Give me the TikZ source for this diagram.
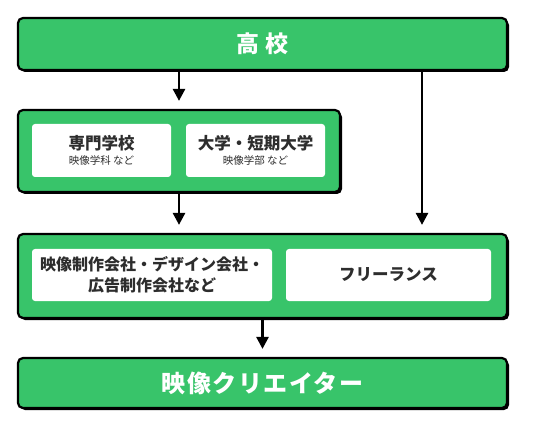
\documentclass[tikz,border=0pt]{standalone}
\usepackage{fontspec}
\usepackage{xcolor}
\usetikzlibrary{shapes,arrows.meta,positioning,calc,shadows}
\setmainfont{Noto Sans CJK JP}
\newfontfamily\jp{Noto Sans CJK JP}
\definecolor{pathgreen}{RGB}{56,196,106}
\definecolor{pathtext}{RGB}{45,45,45}
\tikzset{
  stagebox/.style={draw=black, line width=2.2pt, fill=pathgreen, rounded corners=5pt,
    drop shadow={shadow xshift=2pt, shadow yshift=-2pt, fill=black, opacity=1},
    inner sep=0pt, text=white},
  itembox/.style={fill=white, rounded corners=3pt, inner sep=0pt, text=pathtext, align=center},
  flow/.style={line width=2.6pt, -{Triangle[length=12pt,width=12pt]}, shorten >=8pt}
}
\begin{document}
\begin{tikzpicture}[x=1pt,y=1pt]
				\useasboundingbox (0,0) rectangle (551,426);
				% Draw stage boxes
				\node[stagebox, minimum width=489pt, minimum height=52pt, font=\jp\bfseries\fontsize{23}{25}\selectfont] (hs) at (262.5,382) {高 校};
				\node[stagebox, minimum width=322pt, minimum height=82pt] (school) at (179,275) {};
				\node[stagebox, minimum width=489pt, minimum height=84pt] (work) at (262.5,150) {};
				\node[stagebox, minimum width=489pt, minimum height=50pt, font=\jp\bfseries\fontsize{24}{26}\selectfont\addfontfeature{LetterSpace=6}] (creator) at (262.5,43) {映像クリエイター};
				
				% Draw items inside the boxes
				\node[itembox, minimum width=139pt, minimum height=53pt, font=\jp\fontsize{10.5}{13}\selectfont] (senmon) at (101.5,275.5) {{\bfseries\fontsize{16.5}{18}\selectfont 専門学校}\\[2pt]{映像学科 など}};
				\node[itembox, minimum width=139pt, minimum height=53pt, font=\jp\fontsize{10.5}{13}\selectfont] (daigaku) at (255.5,275.5) {{\bfseries\fontsize{16.5}{18}\selectfont 大学・短期大学}\\[2pt]{映像学部 など}};
				\node[itembox, minimum width=240pt, minimum height=52pt, font=\jp\bfseries\fontsize{16}{21}\selectfont] (company) at (152,151) {映像制作会社・デザイン会社・\\広告制作会社など};
				\node[itembox, minimum width=205pt, minimum height=52pt, font=\jp\bfseries\fontsize{16.5}{18}\selectfont] (freelance) at (388.5,151) {フリーランス};
				
				% Draw connections
				\coordinate (side) at (422,0);
				\draw[flow] (hs.south -| school.north) -- (school.north);
				\draw[flow] (school.south) -- (school.south |- work.north);
				\draw[flow] (hs.south -| side) -- (work.north -| side);
				\draw[flow] (work.south) -- (creator.north);
			\end{tikzpicture}
\end{document}
